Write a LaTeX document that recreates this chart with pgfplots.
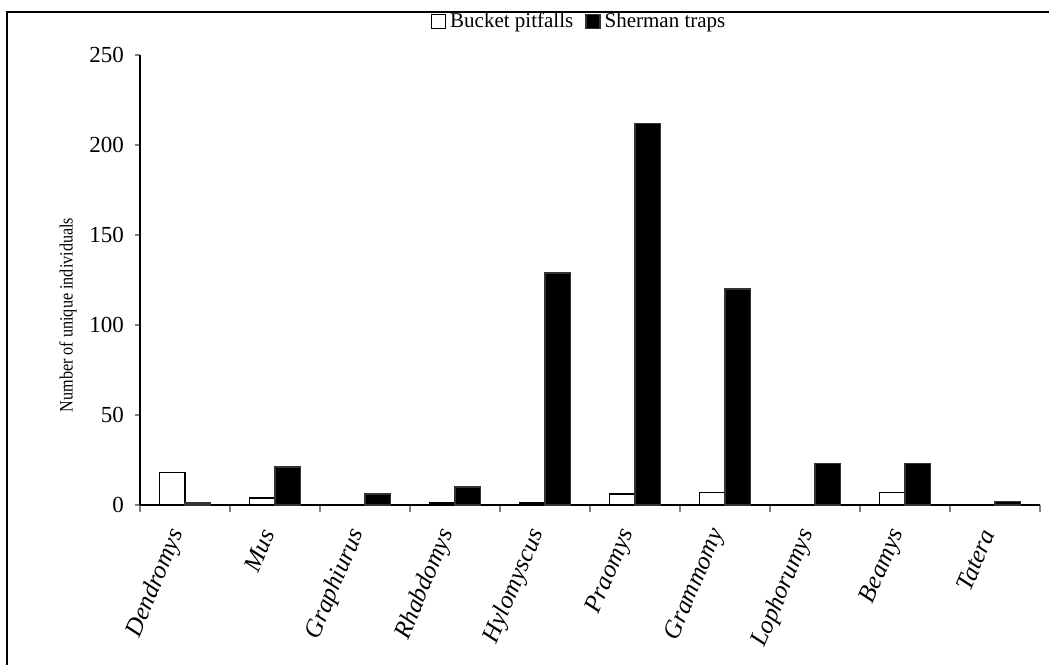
\documentclass[border=0pt]{standalone}
\usepackage{pgfplots}
\pgfplotsset{compat=1.18}
\usepackage{fontspec}
\setmainfont{Liberation Serif}
\newfontfamily\narrowserif[FakeStretch=0.86]{Liberation Serif}
\begin{document}
\begin{tikzpicture}
\useasboundingbox (-70pt,-79.5pt) rectangle (454.5pt,252.5pt);
\draw[line width=1pt] (-66.5pt,-80pt) -- (-66.5pt,246.5pt) -- (455pt,246.5pt);
\begin{axis}[
  at={(0pt,0pt)}, anchor=south west,
  scale only axis, width=450pt, height=225pt,
  ybar=0pt, bar width=12.75pt,
  xmin=-0.5, xmax=9.5, ymin=0, ymax=250,
  axis x line*=bottom, axis y line*=left,
  axis line style={line width=0.9pt},
  /pgf/number format/assume math mode=true,
  xtick={0,...,9},
  xticklabels={Dendromys,Mus,Graphiurus,Rhabdomys,Hylomyscus,Praomys,Grammomy,Lophorumys,Beamys,Tatera},
  major x tick style={draw=none},
  minor xtick={-0.5,0.5,...,9.5},
  minor tick length=3.5pt,
  x tick style={line width=0.9pt},
  tick align=outside,
  ytick={0,50,...,250},
  major tick length=2.5pt,
  y tick style={line width=0.9pt},
  xticklabel style={xshift=-2pt, yshift=-7pt, rotate=67, anchor=east, font=\fontsize{12.5}{15}\selectfont\itshape},
  yticklabel style={font=\fontsize{11.5}{13}\selectfont, xshift=-2pt},
  ylabel={Number of unique individuals},
  every axis y label/.style={at={(axis description cs:0,0.5)}, xshift=-36pt, yshift=-17.5pt, rotate=90, anchor=center, font=\fontsize{9.4}{11}\narrowserif},
  legend style={at={(0.489,1.075)}, anchor=center, draw=none, fill=none,
    legend columns=2, font=\fontsize{10.5}{12}\selectfont,
    /tikz/every even column/.append style={column sep=4pt}},
  legend image code/.code={\draw[#1, line width=0.7pt] (0pt,-3.5pt) rectangle (7pt,3.5pt);},
  legend cell align=left,
]
\addplot[draw=black, fill=white, line width=0.8pt] coordinates {(0,18) (1,4) (2,0) (3,1) (4,1) (5,6) (6,7) (7,0) (8,7) (9,0)};
\addplot[draw=black!80, fill=black, line width=0.8pt] coordinates {(0,1) (1,21) (2,6) (3,10) (4,129) (5,212) (6,120) (7,23) (8,23) (9,2)};
\legend{Bucket pitfalls, Sherman traps}
\end{axis}
\end{tikzpicture}
\end{document}
